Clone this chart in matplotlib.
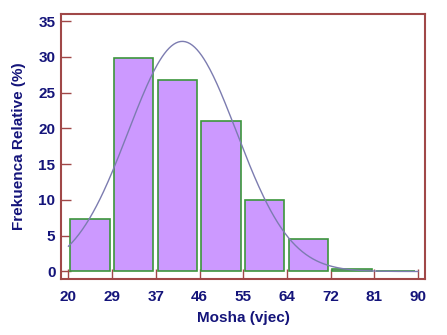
import numpy as np
import matplotlib
matplotlib.use("Agg")
import matplotlib.pyplot as plt

plt.rcParams["font.family"] = ["Liberation Sans", "DejaVu Sans"]

# bin edges (age) and relative frequencies (%)
bin_edges = [20, 28.75, 37.5, 46.25, 55, 63.75, 72.5, 81.25, 90]
tick_labels = ["20", "29", "37", "46", "55", "64", "72", "81", "90"]
rel_freq = [7.3, 29.8, 26.8, 21.0, 10.0, 4.6, 0.3, 0.0]

# normal fit parameters
fit_mean = 42.8
fit_sd = 10.85

navy = "#14147a"
frame = "#a04848"

fig = plt.figure(figsize=(4.47, 3.35), dpi=100)
ax = fig.add_axes([61 / 447, 1 - 279 / 335, 364 / 447, 265 / 335])

width = bin_edges[1] - bin_edges[0]
lefts = np.array(bin_edges[:-1])
ax.bar(lefts + 0.35, rel_freq, width=width * 0.9, align="edge",
       color="#cc99ff", edgecolor="#3c963c", linewidth=1.2, zorder=2)

# fitted normal curve scaled to percent per bin
xs = np.linspace(bin_edges[0], bin_edges[-1], 300)
ys = 100 * width / (fit_sd * np.sqrt(2 * np.pi)) * np.exp(-0.5 * ((xs - fit_mean) / fit_sd) ** 2)
ax.plot(xs, ys, color="#7c7cb0", linewidth=1.0, zorder=3)

ax.set_xlim(18.5, 91.4)
ax.set_ylim(-1.05, 36.0)
ax.set_xticks(bin_edges)
ax.set_xticklabels(tick_labels)
ax.set_yticks([0, 5, 10, 15, 20, 25, 30, 35])

for s in ax.spines.values():
    s.set_color(frame)
    s.set_linewidth(1.5)

ax.tick_params(axis="both", direction="in", length=7, width=1, color=frame,
               labelcolor=navy, labelsize=11)
ax.tick_params(axis="y", pad=4)
ax.tick_params(axis="x", pad=8)
for lab in ax.get_xticklabels() + ax.get_yticklabels():
    lab.set_fontweight("bold")

ax.set_xlabel("Mosha (vjec)", color=navy, fontsize=11, fontweight="bold", labelpad=5)
ax.set_ylabel("Frekuenca Relative (%)", color=navy, fontsize=11, fontweight="bold", labelpad=9)

fig.savefig("out.png", dpi=100)
